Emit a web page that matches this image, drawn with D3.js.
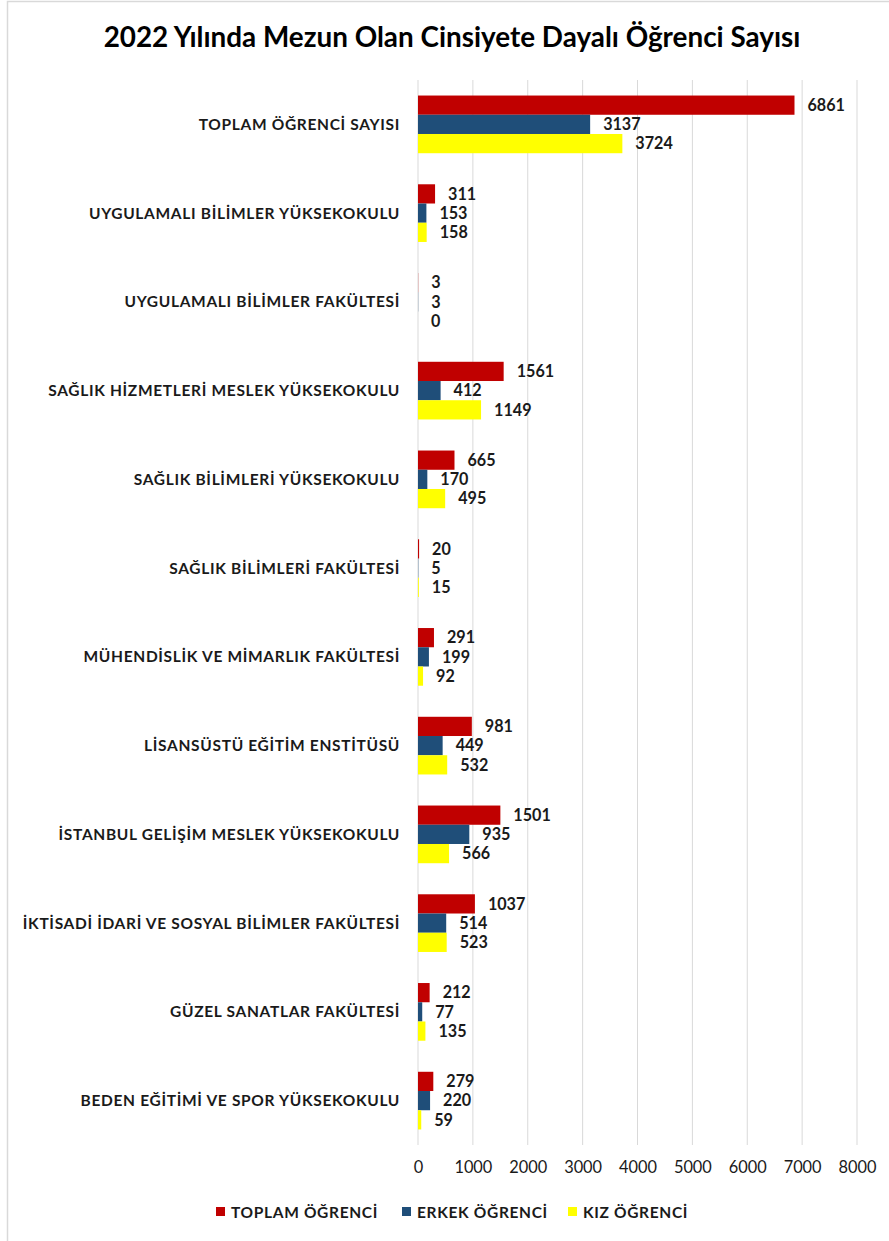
<!DOCTYPE html>
<html>
<head>
<meta charset="utf-8">
<script src="https://cdn.jsdelivr.net/npm/d3@7"></script>
<style>
  html, body { margin: 0; padding: 0; background: #fff; }
  svg { display: block; }
</style>
</head>
<body>
<svg id="chart" width="889" height="1241"></svg>
<script>
const title = "2022 Yılında Mezun Olan Cinsiyete Dayalı Öğrenci Sayısı";
const categories = [
  "TOPLAM ÖĞRENCİ SAYISI",
  "UYGULAMALI BİLİMLER YÜKSEKOKULU",
  "UYGULAMALI BİLİMLER FAKÜLTESİ",
  "SAĞLIK HİZMETLERİ MESLEK YÜKSEKOKULU",
  "SAĞLIK BİLİMLERİ YÜKSEKOKULU",
  "SAĞLIK BİLİMLERİ FAKÜLTESİ",
  "MÜHENDİSLİK VE MİMARLIK FAKÜLTESİ",
  "LİSANSÜSTÜ EĞİTİM ENSTİTÜSÜ",
  "İSTANBUL GELİŞİM MESLEK YÜKSEKOKULU",
  "İKTİSADİ İDARİ VE SOSYAL BİLİMLER FAKÜLTESİ",
  "GÜZEL SANATLAR FAKÜLTESİ",
  "BEDEN EĞİTİMİ VE SPOR YÜKSEKOKULU"
];
const seriesNames = ["TOPLAM ÖĞRENCİ", "ERKEK ÖĞRENCİ", "KIZ ÖĞRENCİ"];
const toplam = [6861, 311, 3, 1561, 665, 20, 291, 981, 1501, 1037, 212, 279];
const erkek  = [3137, 153, 3, 412, 170, 5, 199, 449, 935, 514, 77, 220];
const kiz    = [3724, 158, 0, 1149, 495, 15, 92, 532, 566, 523, 135, 59];
const colors = ["#C00000", "#1F4E79", "#FFFF00"];
const xTicks = [0, 1000, 2000, 3000, 4000, 5000, 6000, 7000, 8000];

const seriesValues = [toplam, erkek, kiz];
const FONT = "Lato, 'Open Sans', sans-serif";
const svg = d3.select("#chart");

// measure helper: font size so that a given text spans a target width
function fitSize(text, weight, target, base) {
  const tmp = svg.append("text").attr("font-family", FONT)
    .attr("font-weight", weight).attr("font-size", base).text(text);
  const w = tmp.node().getComputedTextLength();
  tmp.remove();
  return base * target / w;
}

// outer border
svg.append("rect")
  .attr("x", 7.5).attr("y", 1.5)
  .attr("width", 900).attr("height", 1260)
  .attr("fill", "#fff").attr("stroke", "#d9d9d9").attr("stroke-width", 1.5);

const plot = { left: 418, right: 857, top: 80, bottom: 1145 };

const x = d3.scaleLinear().domain([0, 8000]).range([plot.left, plot.right]);
const y = d3.scaleBand().domain(categories).range([plot.top, plot.bottom])
  .paddingInner(0.35).paddingOuter(0.175);
const ys = d3.scaleBand().domain(seriesNames).range([0, y.bandwidth()]);

const titleSize = fitSize(title, "bold", 697, 24);
const catSize = Math.min(15.5, fitSize(categories[1], "bold", 311, 14));
const valSize = fitSize("6861", "bold", 37.5, 15);
const tickSize = fitSize("1000", "normal", 38, 15);
const legSize = Math.min(15.5, fitSize(seriesNames[0], "bold", 147, 14));

// title
svg.append("text")
  .attr("x", 452).attr("y", 47)
  .attr("text-anchor", "middle")
  .attr("font-family", FONT).attr("font-weight", "bold")
  .attr("font-size", titleSize).attr("fill", "#000")
  .text(title);

// gridlines
svg.append("g").selectAll("line").data(xTicks).join("line")
  .attr("x1", d => x(d)).attr("x2", d => x(d))
  .attr("y1", plot.top).attr("y2", plot.bottom)
  .attr("stroke", "#d9d9d9").attr("stroke-width", 1);

// x axis
const xAxis = svg.append("g")
  .attr("transform", `translate(0,${plot.bottom})`)
  .call(d3.axisBottom(x).tickValues(xTicks).tickSize(0).tickPadding(16).tickFormat(d3.format("d")));
xAxis.select(".domain").remove();
xAxis.selectAll("text")
  .attr("font-family", FONT).attr("font-size", tickSize).attr("fill", "#1a1a1a");

// bars
const data = [];
categories.forEach((c, i) => {
  seriesNames.forEach((s, j) => {
    data.push({ cat: c, series: s, value: seriesValues[j][i], color: colors[j] });
  });
});

const g = svg.append("g");
g.selectAll("rect").data(data).join("rect")
  .attr("x", x(0))
  .attr("y", d => y(d.cat) + ys(d.series))
  .attr("width", d => x(d.value) - x(0))
  .attr("height", ys.bandwidth())
  .attr("fill", d => d.color);

// value labels
g.selectAll("text.val").data(data).join("text")
  .attr("class", "val")
  .attr("x", d => x(d.value) + 13)
  .attr("y", d => y(d.cat) + ys(d.series) + ys.bandwidth() / 2)
  .attr("dy", "0.36em")
  .attr("font-family", FONT).attr("font-weight", "bold")
  .attr("font-size", valSize).attr("fill", "#1a1a1a")
  .text(d => d.value);

// category labels
const catLabels = svg.append("g").selectAll("text").data(categories).join("text")
  .attr("x", 400)
  .attr("y", d => y(d) + y.bandwidth() / 2)
  .attr("dy", "0.36em")
  .attr("text-anchor", "end")
  .attr("font-family", FONT).attr("font-weight", "bold")
  .attr("font-size", catSize).attr("fill", "#1a1a1a")
  .text(d => d);
// stretch to reference width via letter spacing
catLabels.filter((d, i) => i === 1).each(function() {
  const w = this.getComputedTextLength();
  const n = categories[1].length;
  const ls = (311 - w) / n;
  catLabels.attr("letter-spacing", ls > 0 ? ls : 0);
});

// legend
const legendX = [216, 402, 568];
const lg = svg.append("g").selectAll("g").data(seriesNames).join("g")
  .attr("transform", (d, i) => `translate(${legendX[i]},1212)`);
lg.append("rect").attr("x", 0).attr("y", -5).attr("width", 9).attr("height", 9)
  .attr("fill", (d, i) => colors[i]);
const lt = lg.append("text").attr("x", 15).attr("y", 0).attr("dy", "0.36em")
  .attr("font-family", FONT).attr("font-weight", "bold")
  .attr("font-size", legSize).attr("fill", "#1a1a1a")
  .text(d => d);
lt.filter((d, i) => i === 0).each(function() {
  const w = this.getComputedTextLength();
  const ls = (147 - w) / seriesNames[0].length;
  lt.attr("letter-spacing", ls > 0 ? ls : 0);
});
</script>
</body>
</html>
